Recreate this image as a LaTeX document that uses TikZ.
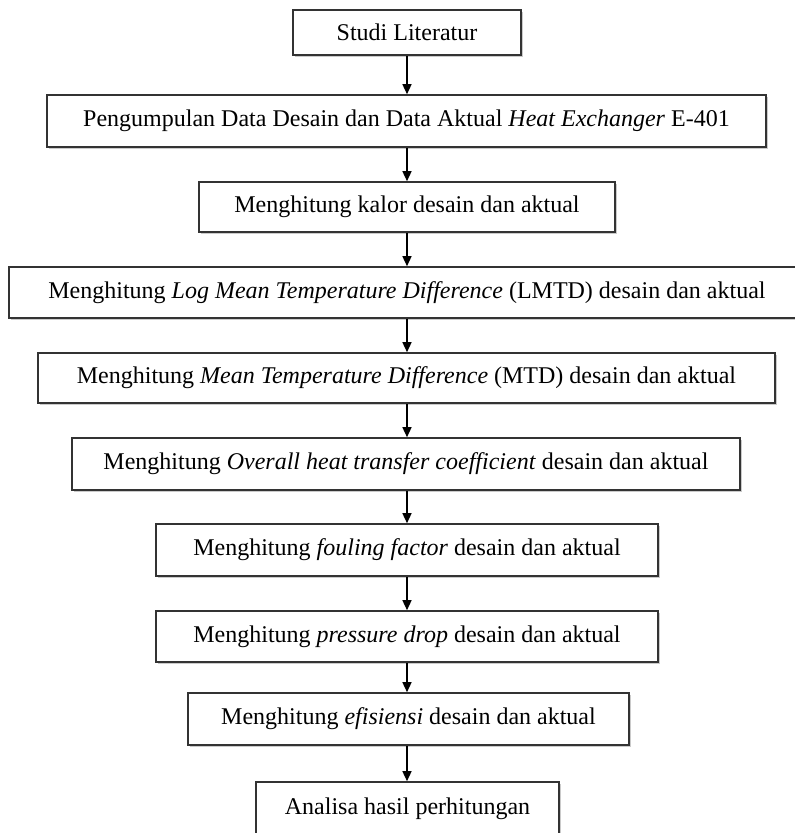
\documentclass[tikz,border=0pt]{standalone}
\usepackage{fontspec}
\setmainfont{Liberation Serif}
\usetikzlibrary{arrows.meta,shadows}
\begin{document}
\begin{tikzpicture}[x=1pt,y=1pt,
  box/.style={draw=black!80, line width=1.6pt, fill=white, inner sep=0pt,
    font=\fontsize{24}{28}\selectfont,
    drop shadow={shadow xshift=1.5pt, shadow yshift=-1.5pt, opacity=0.35, fill=black!60}},
  arr/.style={-{Triangle[length=10pt,width=9pt]}, line width=1.4pt, black}]
\useasboundingbox (0,0) rectangle (795,-833);
\node[box, minimum width=228pt, minimum height=45pt] (b1) at (407,-32.5) {Studi Literatur};
\node[box, minimum width=719pt, minimum height=52pt] (b2) at (406.5,-121) {Pengumpulan Data Desain dan Data Aktual \textit{Heat Exchanger} E-401};
\node[box, minimum width=416pt, minimum height=50pt] (b3) at (407,-207) {Menghitung kalor desain dan aktual};
\node[box, minimum width=796pt, minimum height=51pt] (b4) at (407,-292.5) {Menghitung \textit{Log Mean Temperature Difference} (LMTD) desain dan aktual};
\node[box, minimum width=737pt, minimum height=50pt] (b5) at (406.5,-378) {Menghitung \textit{Mean Temperature Difference} (MTD) desain dan aktual};
\node[box, minimum width=668pt, minimum height=52pt] (b6) at (406,-464) {Menghitung \textit{Overall heat transfer coefficient} desain dan aktual};
\node[box, minimum width=502pt, minimum height=52pt] (b7) at (407,-550) {Menghitung \textit{fouling factor} desain dan aktual};
\node[box, minimum width=502pt, minimum height=51pt] (b8) at (407,-636.5) {Menghitung \textit{pressure drop} desain dan aktual};
\node[box, minimum width=441pt, minimum height=52pt] (b9) at (408.5,-719) {Menghitung \textit{efisiensi} desain dan aktual};
\node[box, minimum width=303pt, minimum height=53pt] (b10) at (407.5,-808.5) {Analisa hasil perhitungan};
\foreach \a/\b in {b1/b2,b2/b3,b3/b4,b4/b5,b5/b6,b6/b7,b7/b8,b8/b9,b9/b10}{
  \draw[arr] (\a.south -| 407,0) -- (\b.north -| 407,0);
}
\end{tikzpicture}
\end{document}
